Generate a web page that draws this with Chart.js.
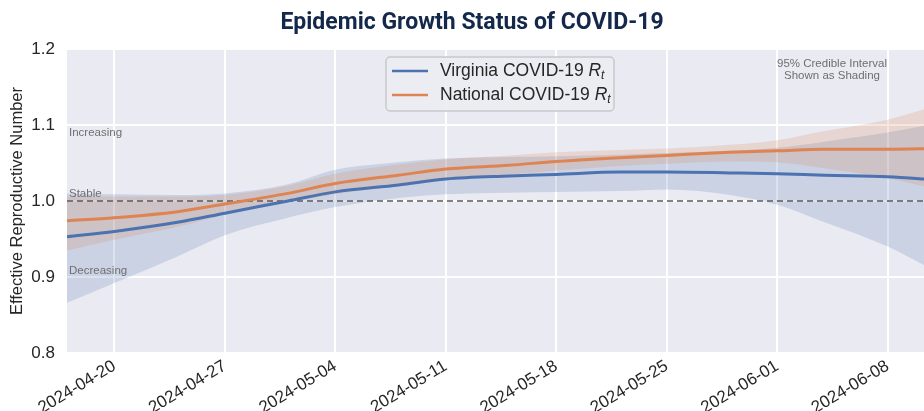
<!DOCTYPE html>
<html>
<head>
<meta charset="utf-8">
<script src="https://cdn.jsdelivr.net/npm/chart.js@4.4.1/dist/chart.umd.min.js"></script>
<style>
  html, body { margin: 0; padding: 0; background: #fff; }
  #wrap { width: 924px; height: 411px; }
</style>
</head>
<body>
<div id="wrap"><canvas id="rt"></canvas></div>
<script>
// estimates
const dates = ['2024-04-17','2024-04-20','2024-04-24','2024-04-27','2024-05-01','2024-05-04','2024-05-08','2024-05-11','2024-05-15','2024-05-18','2024-05-22','2024-05-25','2024-05-29','2024-06-01','2024-06-04','2024-06-08','2024-06-11'];
const vaRt    = [0.953, 0.960, 0.972, 0.984, 1.000, 1.012, 1.021, 1.029, 1.033, 1.035, 1.038, 1.038, 1.037, 1.036, 1.034, 1.032, 1.028];
const vaUpper = [1.010, 1.009, 1.008, 1.010, 1.022, 1.041, 1.051, 1.056, 1.058, 1.059, 1.061, 1.063, 1.066, 1.070, 1.078, 1.090, 1.102];
const vaLower = [0.866, 0.892, 0.927, 0.955, 0.978, 0.992, 1.004, 1.009, 1.011, 1.012, 1.013, 1.015, 1.008, 0.995, 0.972, 0.940, 0.908];
const usRt    = [0.974, 0.978, 0.986, 0.996, 1.010, 1.023, 1.034, 1.042, 1.047, 1.052, 1.057, 1.060, 1.064, 1.066, 1.068, 1.068, 1.069];
const usUpper = [1.006, 1.006, 1.006, 1.008, 1.020, 1.036, 1.048, 1.055, 1.060, 1.064, 1.067, 1.069, 1.074, 1.080, 1.092, 1.107, 1.125];
const usLower = [0.935, 0.949, 0.966, 0.982, 0.998, 1.009, 1.020, 1.029, 1.035, 1.040, 1.046, 1.049, 1.052, 1.051, 1.043, 1.030, 1.016];
const tickDates = ['2024-04-20','2024-04-27','2024-05-04','2024-05-11','2024-05-18','2024-05-25','2024-06-01','2024-06-08'];
const yTicks = [0.8, 0.9, 1.0, 1.1, 1.2];
const stableLevel = 1.0;

const BLUE = '#4C72B0', ORANGE = '#DD8452';
const FONT = "'Liberation Sans', Arial, sans-serif";
const t0 = Date.parse(dates[0]);
const dayOf = d => (Date.parse(d) - t0) / 86400000;
const pts = arr => arr.map((v, i) => ({ x: dayOf(dates[i]), y: v }));

const line = (label, arr, color, order) => ({
  label, data: pts(arr), borderColor: color, borderWidth: 3, pointRadius: 0,
  cubicInterpolationMode: 'monotone', fill: false, order
});
const band = (arr, color, fill, order) => ({
  data: pts(arr), borderWidth: 0, pointRadius: 0, cubicInterpolationMode: 'monotone',
  backgroundColor: color, fill, order
});

// plot background, title, notes, legend
const decor = {
  id: 'decor',
  beforeDraw(chart) {
    const { ctx, chartArea: a } = chart;
    ctx.save();
    ctx.fillStyle = '#EAEAF2';
    ctx.fillRect(a.left, a.top, a.right - a.left, a.bottom - a.top);
    ctx.restore();
  },
  afterDraw(chart) {
    const { ctx, chartArea: a, scales: { y } } = chart;
    ctx.save();
    ctx.fillStyle = '#14284B';
    ctx.font = "bold 23px 'Roboto', sans-serif";
    ctx.textAlign = 'center';
    ctx.textBaseline = 'middle';
    ctx.fillText('Epidemic Growth Status of COVID-19', 472, 23);

    ctx.fillStyle = '#6f6f6f';
    ctx.font = '11.5px ' + FONT;
    ctx.textBaseline = 'alphabetic';
    ctx.textAlign = 'left';
    ctx.fillText('Increasing', a.left + 2, y.getPixelForValue(1.1) + 11);
    ctx.fillText('Stable', a.left + 2, y.getPixelForValue(1.0) - 4);
    ctx.fillText('Decreasing', a.left + 2, y.getPixelForValue(0.9) - 3);
    ctx.textAlign = 'center';
    ctx.fillText('95% Credible Interval', 832, 67);
    ctx.fillText('Shown as Shading', 832, 79);

    // legend
    const bx = 386, by = 57, bw = 228, bh = 54;
    ctx.fillStyle = 'rgba(236,236,243,0.92)';
    ctx.strokeStyle = '#c8c8cc';
    ctx.lineWidth = 1.5;
    ctx.beginPath();
    ctx.roundRect(bx, by, bw, bh, 4);
    ctx.fill();
    ctx.stroke();
    const rows = [['Virginia COVID-19 ', BLUE, 71], ['National COVID-19 ', ORANGE, 95]];
    rows.forEach(([txt, col, ly]) => {
      ctx.strokeStyle = col;
      ctx.lineWidth = 2.5;
      ctx.beginPath();
      ctx.moveTo(392, ly); ctx.lineTo(428, ly);
      ctx.stroke();
      ctx.fillStyle = '#262626';
      ctx.textAlign = 'left';
      ctx.textBaseline = 'middle';
      ctx.font = '17.5px ' + FONT;
      ctx.fillText(txt, 440, ly);
      let x = 440 + ctx.measureText(txt).width;
      ctx.font = 'italic 17.5px ' + FONT;
      ctx.fillText('R', x, ly);
      x += ctx.measureText('R').width;
      ctx.font = 'italic 12px ' + FONT;
      ctx.fillText('t', x, ly + 5);
    });
    ctx.restore();
  }
};

new Chart(document.getElementById('rt'), {
  type: 'line',
  data: {
    datasets: [
      line('Virginia COVID-19 Rt', vaRt, BLUE, 0),
      line('National COVID-19 Rt', usRt, ORANGE, 1),
      { label: 'Stable', data: [{ x: 0, y: stableLevel }, { x: dayOf(dates[dates.length - 1]), y: stableLevel }], borderColor: '#5a5a5a', borderWidth: 1.5, borderDash: [6, 4], pointRadius: 0, fill: false, order: 2 },
      band(usUpper, 'rgba(221,132,82,0.2)', false, 3),
      band(usLower, 'rgba(221,132,82,0.2)', '-1', 3),
      band(vaUpper, 'rgba(76,114,176,0.2)', false, 4),
      band(vaLower, 'rgba(76,114,176,0.2)', '-1', 4)
    ]
  },
  options: {
    responsive: true,
    maintainAspectRatio: false,
    animation: false,
    layout: { padding: { top: 49 } },
    plugins: {
      legend: { display: false },
      tooltip: { enabled: false },
      title: { display: false }
    },
    scales: {
      x: {
        type: 'linear',
        min: 0,
        max: 54.3,
        afterBuildTicks: s => { s.ticks = tickDates.map(d => ({ value: dayOf(d) })); },
        afterFit: s => { s.height = 58; },
        ticks: {
          callback: (v, i) => tickDates[i],
          font: { family: FONT, size: 17 },
          color: '#262626',
          minRotation: 31,
          maxRotation: 31,
          padding: 3
        },
        grid: { color: '#ffffff', lineWidth: 2, drawTicks: false },
        border: { display: false }
      },
      y: {
        min: 0.8,
        max: 1.2,
        afterBuildTicks: s => { s.ticks = yTicks.map(v => ({ value: v })); },
        afterFit: s => { s.width = 67; },
        ticks: {
          callback: v => v.toFixed(1),
          font: { family: FONT, size: 17 },
          color: '#262626',
          padding: 12
        },
        title: {
          display: true,
          text: 'Effective Reproductive Number',
          font: { family: FONT, size: 16.5 },
          color: '#262626',
          padding: { top: 8, bottom: 0 }
        },
        grid: { color: '#ffffff', lineWidth: 2, drawTicks: false },
        border: { display: false }
      }
    }
  },
  plugins: [decor]
});
</script>
</body>
</html>
